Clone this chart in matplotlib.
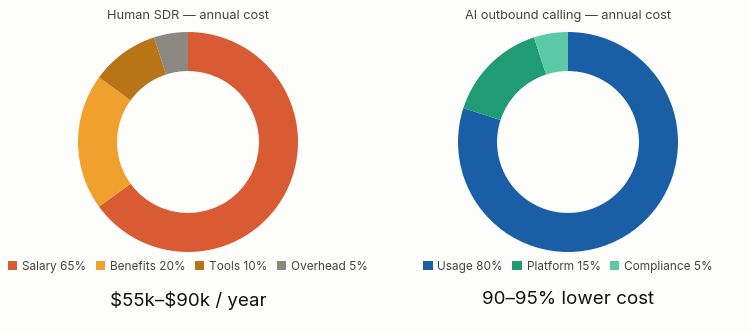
import matplotlib.pyplot as plt
from matplotlib.patches import Patch

plt.rcParams['font.family'] = ['Inter', 'DejaVu Sans']

# datos de los dos donuts
human_labels = ['Salary', 'Benefits', 'Tools', 'Overhead']
human_values = [65, 20, 10, 5]
human_colors = ['#d95b33', '#f0a02c', '#b97418', '#8a8880']

ai_labels = ['Usage', 'Platform', 'Compliance']
ai_values = [80, 15, 5]
ai_colors = ['#1a5fa6', '#1f9c73', '#5cc9a6']

titles = ['Human SDR \u2014 annual cost', 'AI outbound calling \u2014 annual cost']
footers = ['\\$55k\u2013\\$90k / year', '90\u201395% lower cost']

W, H = 750, 332
bg = '#fdfdfc'
fig = plt.figure(figsize=(W / 100, H / 100), dpi=100, facecolor=bg)

groups = [(human_labels, human_values, human_colors, 188),
          (ai_labels, ai_values, ai_colors, 568)]

for i, (labels, values, colors, cx) in enumerate(groups):
    r = 110
    ax = fig.add_axes([(cx - r) / W, (H - 142 - r) / H, 2 * r / W, 2 * r / H])
    ax.pie(values, colors=colors, startangle=90, counterclock=False,
           wedgeprops=dict(width=0.355, edgecolor='none'))
    ax.set_xlim(-1, 1)
    ax.set_ylim(-1, 1)
    ax.set_aspect('equal')
    ax.set_facecolor(bg)

    fig.text(cx / W, 1 - 16 / H, titles[i], ha='center', va='center',
             fontsize=9.2, color='#444444')

    handles = [Patch(facecolor=c, edgecolor='none') for c in colors]
    names = ['%s %d%%' % (l, v) for l, v in zip(labels, values)]
    fig.legend(handles, names, loc='center', bbox_to_anchor=(cx / W, 1 - 267 / H),
               ncol=len(names), frameon=False, fontsize=8.5, labelcolor='#444444',
               handlelength=0.8, handleheight=0.8, handletextpad=0.4,
               columnspacing=0.8, borderpad=0, borderaxespad=0)

    fig.text(cx / W, 1 - 300 / H, footers[i], ha='center', va='center',
             fontsize=13.5, color='#111111')

fig.savefig('out.png', dpi=100, facecolor=bg)
